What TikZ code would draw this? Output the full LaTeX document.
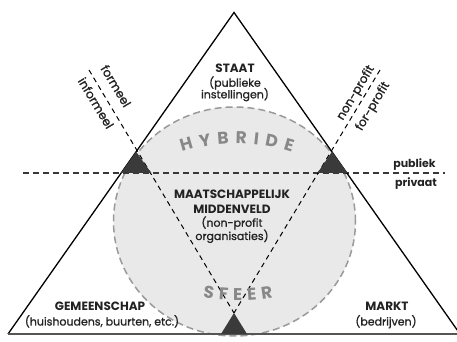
\documentclass[tikz,border=0pt]{standalone}
\usepackage{fontspec}
\setmainfont{Poppins}
\newfontfamily\medfont[FakeBold=1.1]{Poppins}
\usetikzlibrary{decorations.text}
\definecolor{inkc}{HTML}{222222}
\definecolor{darktri}{HTML}{3A3A3A}
\definecolor{sphere}{HTML}{E9E9E9}
\definecolor{spherebd}{HTML}{9A9A9A}
\definecolor{arcword}{HTML}{888888}
\definecolor{basec}{HTML}{555555}
\tikzset{
  edge/.style={draw=black, line width=1.3pt},
  baseedge/.style={draw=basec, line width=2pt},
  hdash/.style={draw=inkc!90, line width=1.3pt, dash pattern=on 6pt off 4pt},
  ddash/.style={draw=black, line width=1pt, dash pattern=on 5pt off 4pt},
  darkbox/.style={fill=darktri, draw=none},
  title/.style={anchor=base, font=\fontsize{12}{14}\selectfont\bfseries, text=inkc, inner sep=0pt},
  sub/.style={anchor=base, font=\medfont\fontsize{11}{13}\selectfont, text=inkc, inner sep=0pt},
  sidelbl/.style={font=\medfont\fontsize{12}{14}\selectfont, text=inkc, inner sep=0pt},
}
\begin{document}
\begin{tikzpicture}[x=1pt,y=1pt]
\useasboundingbox (0,0) rectangle (457,342);
% key points
\coordinate (A) at (234,329.5);
\coordinate (BL) at (8,8);
\coordinate (BR) at (460,8);
\coordinate (HL) at (23,169);
\coordinate (HR) at (445,169);
\coordinate (LT) at (89,272);
\coordinate (RT) at (380,272);
\coordinate (PB) at (234,29);
% sphere
\fill[sphere] (234.5,120.5) ellipse [x radius=121, y radius=114.5];
\draw[spherebd, line width=1.5pt, dash pattern=on 7pt off 4pt] (234.5,120.5) ellipse [x radius=121, y radius=114.5];
% dashed dividers
\draw[hdash] (HL) -- (HR);
\draw[ddash] (LT) -- (PB);
\draw[ddash] (RT) -- (PB);
% triangle
\draw[edge] (BL) -- (A) -- (BR);
\draw[baseedge] (BL) -- (BR);
% dark wedges
\fill[darkbox] (136.1,190.3) -- (121,169) -- (151.3,169) -- cycle;
\fill[darkbox] (332,190.3) -- (317.5,169) -- (347.5,169) -- cycle;
\fill[darkbox] (234,29) -- (221,8) -- (247,8) -- cycle;
% arc words
\path[decorate, decoration={text along path, text align={fit to path},
  text={|\fontsize{17}{17}\selectfont\bfseries\color{arcword}|HYBRIDE}}]
  (237,21.7) ++(108.1:177) arc[start angle=108.1, end angle=71.9, radius=177];
\path[decorate, decoration={text along path, text align={fit to path},
  text={|\fontsize{17}{17}\selectfont\bfseries\color{arcword}|SFEER}}]
  (238,241.5) ++(259.9:200) arc[start angle=259.9, end angle=280.1, radius=200];
% texts
\node[title] (staat) at (235,269) {STAAT};
\node[sub] (staat2) at (235,255.3) {(publieke};
\node[sub] (staat3) at (235,243.7) {instellingen)};
\node[title] (mm1) at (232,143) {MAATSCHAPPELIJK};
\node[title] (mm2) at (232,128.7) {MIDDENVELD};
\node[sub] (mm3) at (232,115.3) {(non-profit};
\node[sub] (mm4) at (232,102) {organisaties)};
\node[title] (gem) at (100,31) {GEMEENSCHAP};
\node[sub] (gem2) at (102,16.5) {(huishoudens, buurten, etc.)};
\node[title] (markt) at (387,31) {MARKT};
\node[sub] (markt2) at (386,16.5) {(bedrijven)};
\node[title, font=\fontsize{11}{13}\selectfont\bfseries] (pub) at (414.5,174) {publiek};
\node[title, font=\fontsize{11}{13}\selectfont\bfseries] (priv) at (416,155) {privaat};
\node[sidelbl, rotate=-59] (form) at (116,256) {formeel};
\node[sidelbl, rotate=-59] (inform) at (96,239) {informeel};
\node[sidelbl, rotate=59] (np) at (356,249) {non-profit};
\node[sidelbl, rotate=59] (fp) at (373,235.5) {for-profit};
\end{tikzpicture}
\end{document}
